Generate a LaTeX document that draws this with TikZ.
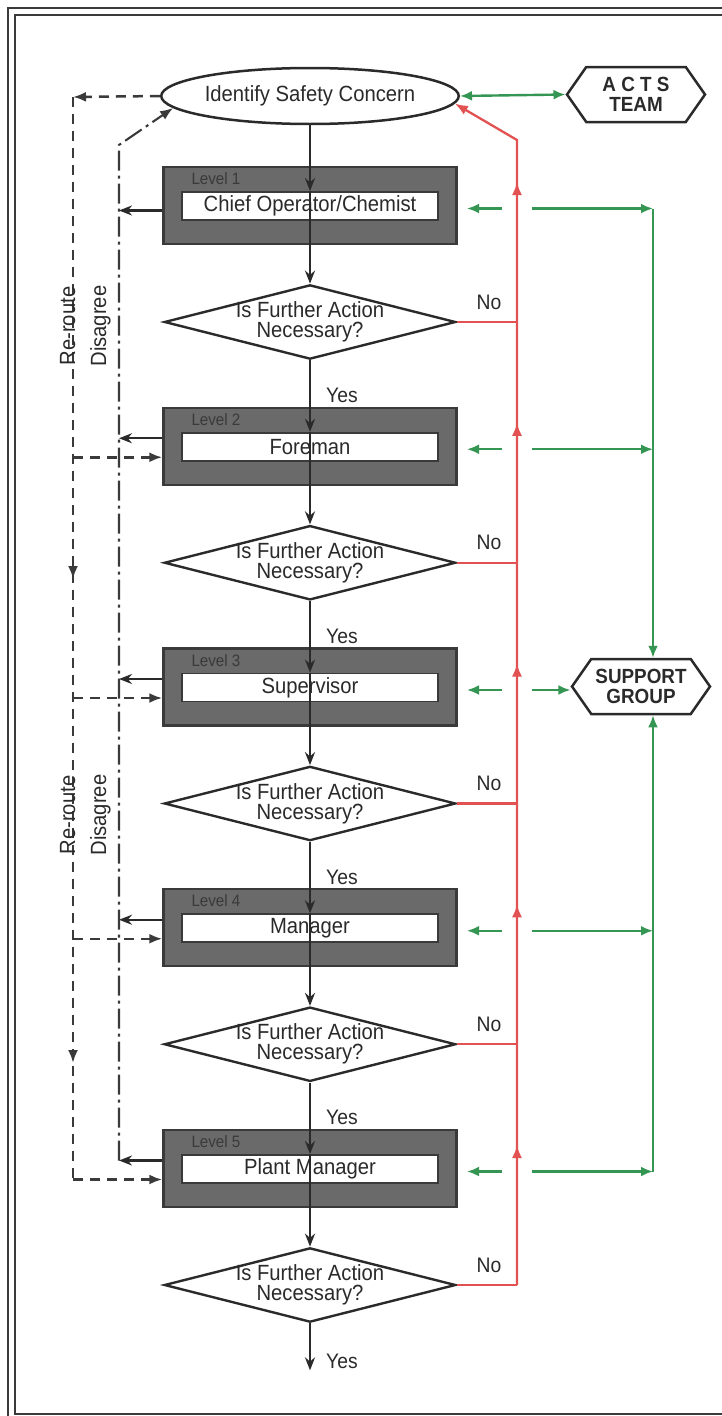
\documentclass[tikz,border=0pt]{standalone}
\usepackage{fontspec}
\setmainfont{Liberation Sans}[FakeStretch=0.92]
\usepackage{tikz}
\usetikzlibrary{arrows.meta,calc,positioning,shapes.geometric,shapes.symbols,decorations.markings}
\definecolor{boxgray}{RGB}{106,106,106}
\definecolor{edgegray}{RGB}{58,58,58}
\definecolor{inkgray}{RGB}{42,42,42}
\definecolor{nored}{RGB}{226,82,82}
\definecolor{supgreen}{RGB}{52,150,82}

\tikzset{
  framerule/.style={draw=edgegray, line width=2.8pt},
  startell/.style={ellipse, draw=inkgray, line width=2.5pt, fill=white,
    minimum width=291pt, minimum height=56pt, inner sep=0pt},
  hexa/.style={signal, signal to=west and east, signal pointer angle=110,
    draw=inkgray, line width=2.5pt, fill=white, minimum width=138pt,
    minimum height=55pt, inner sep=0pt, align=center,
    font=\bfseries\fontsize{20.5}{20.5}\selectfont},
  lvlbox/.style={draw=edgegray, line width=2.4pt, fill=boxgray,
    minimum width=293pt, minimum height=77pt, inner sep=0pt},
  rolebox/.style={draw=edgegray, line width=1.8pt, fill=white,
    minimum width=256pt, minimum height=28pt, inner sep=0pt},
  lvltag/.style={text=edgegray, inner sep=0pt, font=\fontsize{16.5}{17}\selectfont},
  decision/.style={diamond, draw=inkgray, line width=2.4pt, fill=white,
    minimum width=290pt, minimum height=74pt, aspect=3.92,
    inner xsep=-4pt, inner ysep=-1pt, align=center,
    font=\fontsize{22}{20}\selectfont},
  yesno/.style={inner sep=0pt, font=\fontsize{21}{21}\selectfont},
  sidetag/.style={rotate=90, anchor=base, inner sep=0pt},
  flow/.style={draw=inkgray, line width=2.2pt, -{Stealth[length=13pt,width=10pt]}},
  noline/.style={draw=nored, line width=2.3pt},
  greenline/.style={draw=supgreen, line width=2.4pt, -{Latex[length=12pt,width=10pt]}},
  reroute/.style={draw=edgegray, line width=2.5pt, dash pattern=on 10pt off 7pt},
  disagree/.style={draw=edgegray, line width=2.1pt, dash pattern=on 20pt off 5pt on 3pt off 5pt}
}

\begin{document}
\begin{tikzpicture}[x=1pt, y=-1pt, font=\fontsize{22}{22}\selectfont, text=inkgray]
\useasboundingbox (0,0) rectangle (722,1416);

% frame
\draw[framerule] (722,8) -- (8,8) -- (8,1416);
\draw[framerule] (722,15) -- (15,15) -- (15,1414) -- (722,1414);

\node[startell] (ell) at (310,96) {Identify Safety Concern};
\node[hexa] (acts) at (636,94.5) {A C T S\\TEAM};
\node[hexa] (support) at (641,686.5) {SUPPORT\\GROUP};

\foreach \i/\role in {1/{Chief Operator/Chemist},2/Foreman,3/Supervisor,4/Manager,5/Plant Manager}{
  \pgfmathsetmacro{\yb}{205.5+240.75*(\i-1)}
  \pgfmathsetmacro{\yd}{ifthenelse(\i==1,\yb+5,\yb-8)}
  \node[lvlbox] (lvl\i) at (310,\yb) {};
  \node[rolebox] (role\i) at (310,\yb+0.5) {\role};
  \node[lvltag, anchor=west] (tag\i) at ($(lvl\i.north west)+(29,13)$) {Level \i};
  \node[decision] (dec\i) at (310,\yb+116.5) {Is Further Action\\Necessary?};
  \node[yesno] (no\i) at ($(dec\i.east)+(32,-20)$) {No};
  % free ends beside the boxes
  \coordinate (gw\i) at (467,\yb+3);
  \coordinate (ge\i) at (502,\yb+3);
  \coordinate (gs\i) at (532,\yb+3);
  \coordinate (gv\i) at (653,\yb+3);
  \coordinate (dd\i) at (119,\yd);
  \coordinate (rr\i) at (73,\yb+11);
}

% main line down the levels
\draw[flow] (ell.south) -- (role1.north);
\foreach \i in {1,...,5}{
  \draw[flow] (role\i.north) -- (dec\i.north);
}
\foreach \i [evaluate=\i as \j using int(\i+1)] in {1,...,4}{
  \draw[flow] (dec\i.south) -- (role\j.north);
  \node[yesno] (yes\i) at ($(dec\i.south)+(32,35)$) {Yes};
}
\coordinate (stop) at ($(dec5.south)+(0,47)$);
\draw[flow] (dec5.south) -- (stop);
\node[yesno] (yes5) at ($(stop)+(32,-9)$) {Yes};

% answer no: back to the top
\coordinate (rtop) at (517,140);
\foreach \i in {1,...,5}{
  \draw[noline] (dec\i.east) -- (dec\i.east -| rtop);
}
\draw[noline, -{Latex[length=13pt,width=10pt]}, postaction={decorate},
  decoration={markings,
    mark=between positions 140pt and 1110pt step 240.75pt with {\arrow{Latex[length=13pt,width=10pt]}}}]
  (dec5.east -| rtop) -- (rtop) -- (ell.-3);

% teams
\draw[greenline, {Latex[length=12pt,width=10pt]}-{Latex[length=12pt,width=10pt]}] (ell.east) -- (acts.west);
\foreach \i in {1,...,5}{
  \draw[greenline] (ge\i) -- (gw\i);
}
\foreach \i in {1,2,4,5}{
  \draw[greenline] (gs\i) -- (gv\i);
}
\draw[greenline] (gs3) -- (gs3 -| support.west);
\draw[greenline] (gv1) -- (gv1 |- support.north);
\draw[greenline] (gv5) -- (gv5 |- support.south);

% disagree
\coordinate (dcorner) at (119,145);
\foreach \i in {1,...,5}{
  \draw[flow] (lvl\i.west |- dd\i) -- (dd\i);
}
\draw[disagree, -{Latex[length=13pt,width=10pt]}] (dd5) -- (dcorner) -- (ell.185);

% re-route
\coordinate (rcorner) at (73,97);
\draw[reroute, -{Latex[length=13pt,width=10pt]}] (ell.west) -- (rcorner);
\draw[reroute, postaction={decorate},
  decoration={markings,
    mark=at position 482pt with {\arrow{Latex[length=13pt,width=10pt]}},
    mark=at position 966pt with {\arrow{Latex[length=13pt,width=10pt]}}}]
  (rcorner) -- (rr5);
\foreach \i in {2,...,5}{
  \draw[reroute, -{Latex[length=13pt,width=10pt]}] (rr\i) -- (lvl\i.west |- rr\i);
}

\node[sidetag] (rer1) at (75,326) {Re-route};
\node[sidetag] (dis1) at (106,326) {Disagree};
\node[sidetag] (rer2) at (75,815) {Re-route};
\node[sidetag] (dis2) at (106,815) {Disagree};
\end{tikzpicture}
\end{document}
